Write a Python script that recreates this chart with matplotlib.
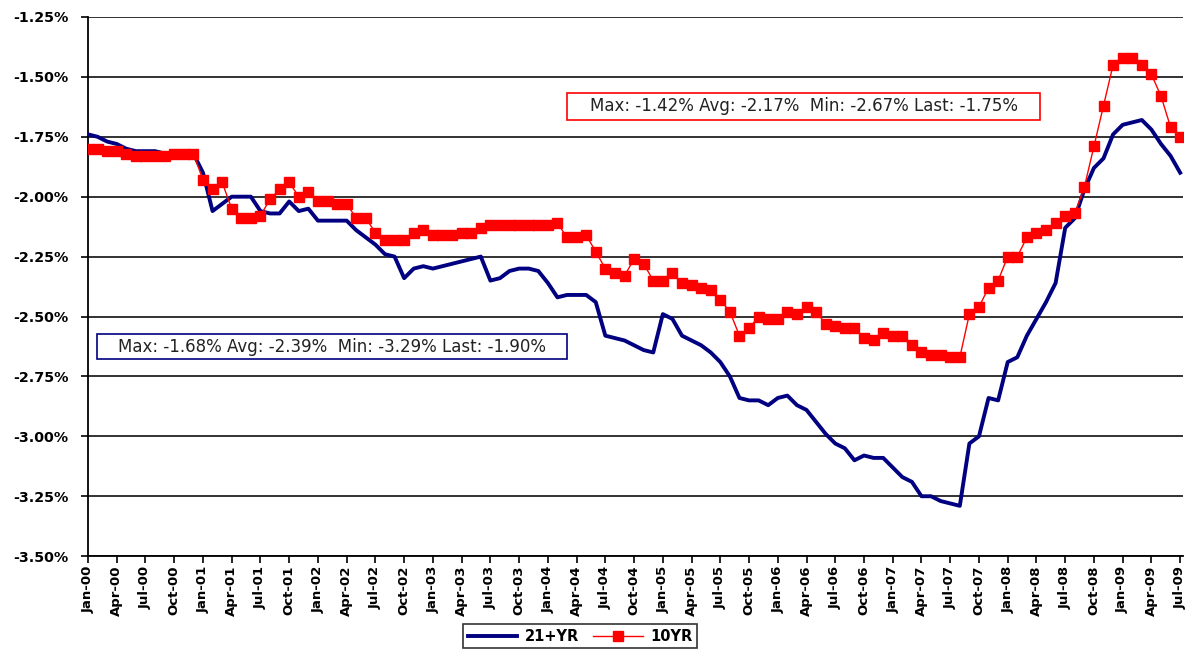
import matplotlib
matplotlib.use("Agg")
import matplotlib.pyplot as plt
from matplotlib.patches import Rectangle
from matplotlib.ticker import FuncFormatter

plt.rcParams['font.family'] = ['DejaVu Sans']

# monthly categories Jan-00 .. Jul-09
mon_names = ['Jan', 'Feb', 'Mar', 'Apr', 'May', 'Jun', 'Jul', 'Aug', 'Sep', 'Oct', 'Nov', 'Dec']
months = []
for yr in range(0, 10):
    for mn in mon_names:
        months.append(f"{mn}-{yr:02d}")
months = months[:115]

# 21+YR (blue)
yr21 = [-1.74, -1.75, -1.77, -1.78, -1.80, -1.81, -1.81, -1.81, -1.82, -1.82, -1.82, -1.82,
        -1.90, -2.06, -2.03, -2.00, -2.00, -2.00, -2.06, -2.07, -2.07, -2.02, -2.06, -2.05,
        -2.10, -2.10, -2.10, -2.10, -2.14, -2.17, -2.20, -2.24, -2.25, -2.34, -2.30, -2.29,
        -2.30, -2.29, -2.28, -2.27, -2.26, -2.25, -2.35, -2.34, -2.31, -2.30, -2.30, -2.31,
        -2.36, -2.42, -2.41, -2.41, -2.41, -2.44, -2.58, -2.59, -2.60, -2.62, -2.64, -2.65,
        -2.49, -2.51, -2.58, -2.60, -2.62, -2.65, -2.69, -2.75, -2.84, -2.85, -2.85, -2.87,
        -2.84, -2.83, -2.87, -2.89, -2.94, -2.99, -3.03, -3.05, -3.10, -3.08, -3.09, -3.09,
        -3.13, -3.17, -3.19, -3.25, -3.25, -3.27, -3.28, -3.29, -3.03, -3.00, -2.84, -2.85,
        -2.69, -2.67, -2.58, -2.51, -2.44, -2.36, -2.13, -2.09, -1.97, -1.88, -1.84, -1.74,
        -1.70, -1.69, -1.68, -1.72, -1.78, -1.83, -1.90]

# 10YR (red)
yr10 = [-1.80, -1.80, -1.81, -1.81, -1.82, -1.83, -1.83, -1.83, -1.83, -1.82, -1.82, -1.82,
        -1.93, -1.97, -1.94, -2.05, -2.09, -2.09, -2.08, -2.01, -1.97, -1.94, -2.00, -1.98,
        -2.02, -2.02, -2.03, -2.03, -2.09, -2.09, -2.15, -2.18, -2.18, -2.18, -2.15, -2.14,
        -2.16, -2.16, -2.16, -2.15, -2.15, -2.13, -2.12, -2.12, -2.12, -2.12, -2.12, -2.12,
        -2.12, -2.11, -2.17, -2.17, -2.16, -2.23, -2.30, -2.32, -2.33, -2.26, -2.28, -2.35,
        -2.35, -2.32, -2.36, -2.37, -2.38, -2.39, -2.43, -2.48, -2.58, -2.55, -2.50, -2.51,
        -2.51, -2.48, -2.49, -2.46, -2.48, -2.53, -2.54, -2.55, -2.55, -2.59, -2.60, -2.57,
        -2.58, -2.58, -2.62, -2.65, -2.66, -2.66, -2.67, -2.67, -2.49, -2.46, -2.38, -2.35,
        -2.25, -2.25, -2.17, -2.15, -2.14, -2.11, -2.08, -2.07, -1.96, -1.79, -1.62, -1.45,
        -1.42, -1.42, -1.45, -1.49, -1.58, -1.71, -1.75]

stats_10 = "Max: -1.42% Avg: -2.17%  Min: -2.67% Last: -1.75%"
stats_21 = "Max: -1.68% Avg: -2.39%  Min: -3.29% Last: -1.90%"

x = list(range(len(months)))

fig = plt.figure(figsize=(11.86, 6.52), dpi=100)
ax = fig.add_axes([0.0742, 0.147, 0.9233, 0.827])

ax.plot(x, yr21, color='#000080', lw=2.8, label='21+YR', zorder=3)
ax.plot(x, yr10, color='#ff0000', lw=1.0, marker='s', ms=7, mec='#ff0000',
        label='10YR', zorder=4)

ax.set_ylim(-3.5, -1.25)
ax.set_xlim(0, 114.3)
yt = [-3.5 + 0.25 * i for i in range(10)]
ax.set_yticks(yt)
ax.yaxis.set_major_formatter(FuncFormatter(lambda v, p: f"{v:.2f}%"))
ax.grid(axis='y', color='#222222', lw=1.3)
ax.set_axisbelow(True)

ax.set_xticks(x[::3])
ax.set_xticklabels(months[::3], rotation=90, fontsize=9.5, fontweight='bold')
for lab in ax.get_yticklabels():
    lab.set_fontweight('bold')
    lab.set_fontsize(10.3)

ax.spines['top'].set_visible(False)
ax.spines['right'].set_visible(False)
ax.spines['left'].set_linewidth(1.3)
ax.spines['bottom'].set_linewidth(1.3)
ax.tick_params(axis='x', direction='out', length=5, width=1.2, pad=2)
ax.tick_params(axis='y', direction='out', length=5, width=1.2, pad=9)

# stats boxes
fig.patches.append(Rectangle((0.478, 0.816), 0.399, 0.0414, transform=fig.transFigure,
                             fill=False, ec='#ff0000', lw=1.2))
fig.text(0.6775, 0.8367, stats_10, ha='center', va='center', fontsize=12, color='#222222')
fig.patches.append(Rectangle((0.0818, 0.449), 0.396, 0.038, transform=fig.transFigure,
                             fill=False, ec='#000080', lw=1.2))
fig.text(0.2798, 0.468, stats_21, ha='center', va='center', fontsize=12, color='#222222')

leg = fig.legend(loc='center', bbox_to_anchor=(0.489, 0.024), ncol=2, frameon=True,
                 fancybox=False, edgecolor='black', prop={'weight': 'bold', 'size': 10.5},
                 handlelength=3.4, columnspacing=1.0, borderpad=0.3, handletextpad=0.5)
leg.get_frame().set_linewidth(1.2)

fig.savefig('out.png', dpi=100)
